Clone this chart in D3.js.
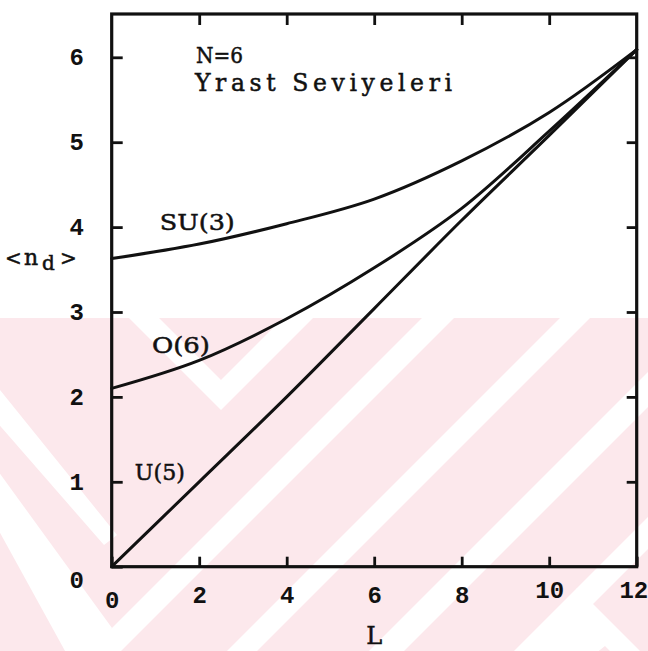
<!DOCTYPE html>
<html>
<head>
<meta charset="utf-8">
<script src="https://cdn.jsdelivr.net/npm/d3@7"></script>
<style>
  body { margin: 0; background: #fff; }
  svg { display: block; }
</style>
</head>
<body>
<svg id="chart" width="648" height="651"></svg>
<script>
// Angular momentum of the yrast states
const L = [0, 2, 4, 6, 8, 10, 12];
// Mean d-boson number <n_d> along the yrast band, N = 6
const su3 = [3.63, 3.80, 4.04, 4.33, 4.78, 5.35, 6.09];
const o6  = [2.10, 2.43, 2.92, 3.52, 4.22, 5.13, 6.09];
const u5  = [0.00, 1.00, 2.00, 3.04, 4.08, 5.08, 6.09];
const seriesNames = ["SU(3)", "O(6)", "U(5)"];
const xTicks = [0, 2, 4, 6, 8, 10, 12];
const yTicks = [0, 1, 2, 3, 4, 5, 6];

const svg = d3.select("#chart");
const W = 648, H = 651;

const x = d3.scaleLinear().domain([0, 12]).range([111.7, 636.7]);
const y = d3.scaleLinear().domain([0, 6]).range([566.7, 57.3]);
const yTop = 6.51;

// ---- background stamp: light pink field with white diagonal bands ----
const stampTop = 318;
const bg = svg.append("g").attr("class", "stamp");
bg.append("rect").attr("x", 0).attr("y", stampTop).attr("width", W).attr("height", H - stampTop)
  .attr("fill", "#fce8ec");
svg.append("defs").append("clipPath").attr("id", "stampClip")
  .append("rect").attr("x", 0).attr("y", stampTop).attr("width", W).attr("height", H - stampTop);
const bands = bg.append("g").attr("clip-path", "url(#stampClip)").attr("fill", "#fff");
// rising band: x + y between c0 and c1
const rise = (c0, c1) => [[c0 - 300, 300], [c1 - 300, 300], [c1 - 700, 700], [c0 - 700, 700]];
const stampPolys = [
  rise(740, 772), rise(878, 908), rise(1020, 1055), rise(1165, 1197),
  // V opening upward, point near (221, 410)
  [[129, 318], [221, 410], [313, 318], [283, 318], [221, 380], [159, 318]],
  // inverted V, apex near (577, 588)
  [[577, 588], [700, 711], [700, 741], [605, 646], [537, 700], [505, 700]],
  // falling bands on the left, ending at the first rising band
  [[-40, 380], [-8, 380], [117, 535], [104, 545]],
  [[-40, 460], [-10, 460], [112, 628], [96, 650], [70, 660]]
];
bands.selectAll("polygon").data(stampPolys).join("polygon")
  .attr("points", d => d.map(p => p.join(",")).join(" "));

// ---- frame ----
const ink = "#111";
const g = svg.append("g");
g.append("rect")
  .attr("x", x(0)).attr("y", y(yTop))
  .attr("width", x(12) - x(0)).attr("height", y(0) - y(yTop))
  .attr("fill", "none").attr("stroke", ink).attr("stroke-width", 3.2);

const numFont = "'Liberation Mono', 'Courier New', monospace";
const typeFont = "'DejaVu Serif', 'Liberation Serif', serif";

// left axis with labels
const axLeft = g.append("g").attr("transform", `translate(${x(0)},0)`)
  .call(d3.axisLeft(y).tickValues(yTicks).tickSize(-11).tickPadding(24).tickFormat(d3.format("d")));
// right axis (ticks only)
const axRight = g.append("g").attr("transform", `translate(${x(12)},0)`)
  .call(d3.axisRight(y).tickValues(yTicks.slice(1)).tickSize(-10).tickFormat(""));
// bottom axis with labels
const axBottom = g.append("g").attr("transform", `translate(0,${y(0)})`)
  .call(d3.axisBottom(x).tickValues(xTicks).tickSize(-10).tickPadding(19).tickFormat(d3.format("d")));
// top axis (ticks only)
const axTop = g.append("g").attr("transform", `translate(0,${y(yTop)})`)
  .call(d3.axisTop(x).tickValues(xTicks.slice(1, -1)).tickSize(-11).tickFormat(""));

[axLeft, axRight, axBottom, axTop].forEach(a => {
  a.select(".domain").remove();
  a.selectAll(".tick line").attr("stroke", ink).attr("stroke-width", 2.8);
  a.selectAll("text").attr("fill", ink)
    .style("font-family", numFont).style("font-weight", "bold").style("font-size", "24px");
});
axLeft.selectAll(".tick text").attr("text-anchor", "middle").attr("x", -35);
axLeft.selectAll(".tick").filter(d => d === 0).select("text").attr("dy", "0.85em");
axBottom.selectAll(".tick").filter(d => d === 0).select("text").attr("dy", "0.95em");
axBottom.selectAll(".tick").filter(d => d >= 10).select("text").attr("dy", "0.5em");
axBottom.selectAll(".tick").filter(d => d === 12).select("text").attr("text-anchor", "end").attr("x", 11);

// ---- curves ----
const line = d3.line().x(d => x(d[0])).y(d => y(d[1])).curve(d3.curveCatmullRom.alpha(0.5));
const series = [su3, o6, u5].map((vals, i) => ({ name: seriesNames[i], pts: L.map((l, j) => [l, vals[j]]) }));
g.selectAll("path.curve").data(series).join("path")
  .attr("class", "curve")
  .attr("d", d => line(d.pts))
  .attr("fill", "none").attr("stroke", ink).attr("stroke-width", 3)
  .attr("stroke-linejoin", "round").attr("stroke-linecap", "round");

// ---- text ----
function typed(sel) {
  return sel.style("font-family", typeFont).attr("fill", ink)
    .attr("stroke", ink).attr("stroke-width", 0.5);
}
const labelAt = [[1.1, 3.96], [0.92, 2.52], [0.53, 1.02]];
const labelLen = [75, 58, 50];
typed(g.selectAll("text.series").data(series).join("text"))
  .attr("class", "series")
  .attr("x", (d, i) => x(labelAt[i][0])).attr("y", (d, i) => y(labelAt[i][1]))
  .attr("textLength", (d, i) => labelLen[i]).attr("lengthAdjust", "spacingAndGlyphs")
  .style("font-size", "22px")
  .text(d => d.name);

typed(g.append("text")).attr("x", 196).attr("y", 63)
  .attr("textLength", 47).attr("lengthAdjust", "spacingAndGlyphs")
  .style("font-size", "23px").text("N=6");
typed(g.append("text")).attr("x", 195).attr("y", 91)
  .attr("textLength", 257).attr("lengthAdjust", "spacing")
  .style("font-size", "23.5px").text("Yrast Seviyeleri");

// y title <n_d>
const yt = typed(g.append("text")).attr("y", 265).style("font-size", "22px");
yt.append("tspan").attr("x", 5).style("font-size", "20px").text("<");
yt.append("tspan").attr("x", 24).text("n");
yt.append("tspan").attr("x", 42).attr("dy", 5).style("font-size", "20px").text("d");
yt.append("tspan").attr("x", 60).attr("dy", -5).style("font-size", "20px").text(">");

// x title
typed(g.append("text")).attr("x", x(6)).attr("y", 644).attr("text-anchor", "middle")
  .style("font-size", "24px").text("L");
</script>
</body>
</html>
